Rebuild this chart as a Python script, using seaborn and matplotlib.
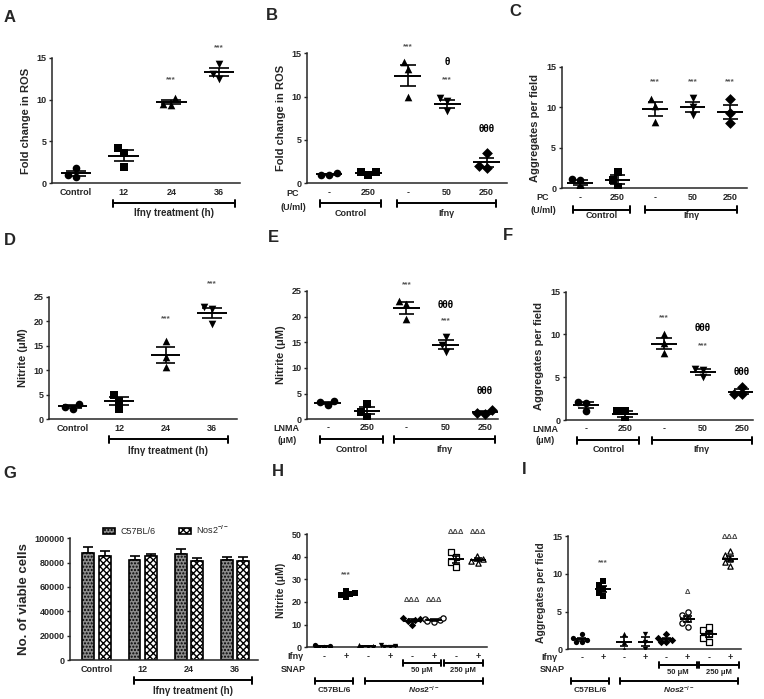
import numpy as np
import pandas as pd
import matplotlib
matplotlib.use("Agg")
import matplotlib.pyplot as plt
from matplotlib import transforms
import seaborn as sns

sns.set_style("ticks")
plt.rcParams['font.family'] = ['Liberation Sans', 'DejaVu Sans']
plt.rcParams['font.weight'] = 'bold'
plt.rcParams['mathtext.fontset'] = 'custom'
plt.rcParams['mathtext.rm'] = 'Liberation Sans:bold'
plt.rcParams['mathtext.it'] = 'Liberation Sans:italic:bold'
plt.rcParams['mathtext.bf'] = 'Liberation Sans:bold'
plt.rcParams['axes.linewidth'] = 1.1

# ---------------- DATA ----------------
# A: ROS fold change over Ifng treatment time
a_labels = ['Control', '12', '24', '36']
a_vals = [[1.8, 0.8, 1.0], [4.2, 3.6, 2.0], [10.2, 9.4, 9.5], [14.3, 12.5, 13.1]]
# B: ROS with PC
b_labels = ['-', '250', '-', '50', '250']
b_vals = [[1.2, 0.9, 1.0], [1.3, 1.0, 1.3], [14.0, 13.2, 10.0], [9.8, 9.5, 8.3], [3.5, 1.8, 2.0]]
# C: aggregates with PC
c_labels = ['-', '250', '-', '50', '250']
c_vals = [[1.1, 1.0, 0.0], [2.0, 1.0, 0.2], [11.0, 10.2, 8.2], [11.2, 10.0, 9.0], [11.0, 9.3, 8.0]]
# D: nitrite over time
d_labels = ['Control', '12', '24', '36']
d_vals = [[3.2, 2.2, 2.6], [5.0, 3.8, 2.2], [16.0, 12.8, 10.6], [23.0, 22.5, 19.5]]
# E: nitrite with LNMA
e_labels = ['-', '250', '-', '50', '250']
e_vals = [[3.6, 2.7, 3.3], [3.0, 0.5, 1.5], [23.0, 22.5, 19.5], [16.0, 13.2, 14.5], [1.8, 1.0, 1.2]]
# F: aggregates with LNMA
f_labels = ['-', '250', '-', '50', '250']
f_vals = [[2.1, 2.0, 1.0], [1.1, 1.0, 0.0], [10.0, 9.0, 7.8], [6.0, 5.9, 5.0], [3.9, 3.0, 3.0]]
# G: viable cells
g_groups = ['Control', '12', '24', '36']
g_strains = ['C57BL/6', 'Nos2$^{-/-}$']
g_c57_mean = [88000, 82000, 87000, 82000]
g_c57_sem = [5000, 3500, 3800, 3000]
g_nos_mean = [85500, 85500, 81500, 81500]
g_nos_sem = [4000, 2000, 2000, 3500]
# H: nitrite, SNAP rescue
hi_labels = ['-', '+', '-', '+', '-', '+', '-', '+']
h_vals = [[0.2, 0.5, 0.8, 0.3], [22.0, 23.0, 24.0, 25.0, 23.5], [0.0, 0.5, 0.8, 0.2],
          [0.3, 0.6, 1.0, 0.2], [10.0, 11.5, 12.0, 13.0, 12.5], [11.0, 12.0, 13.0, 12.5, 11.5],
          [42.0, 40.0, 37.5, 35.5], [40.5, 39.0, 38.0, 37.0]]
# I: aggregates, SNAP rescue
i_vals = [[1.0, 1.2, 1.5, 2.0, 1.0], [7.0, 7.5, 8.0, 8.5, 9.0], [0.0, 1.0, 2.0], [0.0, 1.0, 2.0],
          [1.0, 1.2, 1.5, 2.0, 1.0], [3.0, 3.5, 4.0, 4.5, 5.0], [1.0, 1.5, 2.0, 2.5, 3.0],
          [11.0, 11.5, 12.0, 12.5, 13.0]]

# ---------------- LAYOUT ----------------
W, H = 764, 699
fig = plt.figure(figsize=(W / 100, H / 100), dpi=100)


def fy(y):
    return 1 - y / H


def px_axes(l, r, t, b):
    return fig.add_axes([l / W, 1 - b / H, (r - l) / W, (b - t) / H])


def style_axes(ax, ymax, yticks, xlim, labels, ylabel, pad, ylab_size=8, ylabpad=4):
    ax.set_xlim(*xlim)
    ax.set_ylim(0, ymax)
    ax.set_yticks(yticks)
    ax.set_xticks(range(len(labels)))
    ax.set_xticklabels(labels)
    ax.tick_params(axis='x', length=0, pad=pad, labelsize=6.5)
    ax.tick_params(axis='y', length=2.5, width=1, pad=1.5, labelsize=6.5)
    for lab in ax.get_xticklabels() + ax.get_yticklabels():
        lab.set_fontweight('bold')
    sns.despine(ax=ax)
    ax.set_xlabel('')
    ax.set_ylabel(ylabel, fontsize=ylab_size, fontweight='bold', labelpad=ylabpad)


def scatter_panel(ax, groups, markers, opens, msize, mean_hw, cap_hw):
    rows = [(i, v) for i, vals in enumerate(groups) for v in vals]
    df = pd.DataFrame(rows, columns=['pos', 'val'])
    for i, vals in enumerate(groups):
        sub = df[df.pos == i]
        op = opens[i]
        sns.swarmplot(data=sub, x='pos', y='val', native_scale=True, orient='x',
                      marker=markers[i], size=msize,
                      color='white' if op else 'black', edgecolor='black',
                      linewidth=0.9 if op else 0, ax=ax, zorder=3)
        m = np.mean(vals)
        s = np.std(vals, ddof=1) / np.sqrt(len(vals))
        ax.hlines(m, i - mean_hw, i + mean_hw, color='black', lw=1.4, zorder=4)
        ax.vlines(i, m - s, m + s, color='black', lw=1.2, zorder=4)
        ax.hlines([m - s, m + s], i - cap_hw, i + cap_hw, color='black', lw=1.2, zorder=4)


def bracket(ax, x0, x1, yimg, tick=3.5, lw=1.4):
    tr = transforms.blended_transform_factory(ax.transData, fig.transFigure)
    ax.plot([x0, x1], [fy(yimg)] * 2, transform=tr, color='black', lw=lw, clip_on=False)
    for x in (x0, x1):
        ax.plot([x, x], [fy(yimg - tick), fy(yimg + tick)], transform=tr, color='black',
                lw=lw, clip_on=False)


def blab(ax, x, yimg, text, size=6.5, **kw):
    tr = transforms.blended_transform_factory(ax.transData, fig.transFigure)
    ax.text(x, fy(yimg), text, transform=tr, ha='center', va='center', fontsize=size,
            fontweight='bold', **kw)


def note(ax, x, y, text, kind='star'):
    if kind == 'star':
        ax.text(x, y, text, ha='center', va='center', fontsize=6, color='#555555', fontweight='bold')
    elif kind == 'theta':
        ax.text(x, y, text, ha='center', va='center', fontsize=7, color='black', fontweight='bold')
    else:
        ax.text(x, y, text, ha='center', va='center', fontsize=5.5, color='#444444', fontweight='bold')


def ftext(x, y, text, size=6.5, **kw):
    fig.text(x / W, fy(y), text, ha='center', va='center', fontsize=size, fontweight='bold', **kw)


mk4 = ['o', 's', '^', 'v']
mk5 = ['o', 's', '^', 'v', 'D']
mk8 = ['o', 's', '^', 'v', 'D', 'o', 's', '^']
op8 = [False, False, False, False, False, True, True, True]

# ---- A ----
ax = px_axes(52, 240, 57.7, 183.3)
style_axes(ax, 15, [0, 5, 10, 15], (-0.5, 3.44), a_labels, 'Fold change in ROS', 3.4)
scatter_panel(ax, a_vals, mk4, [False] * 4, 5.5, 0.32, 0.21)
ax.set_xlim(-0.5, 3.44); ax.set_ylim(0, 15); ax.set_xlabel(''); ax.set_ylabel('Fold change in ROS', fontsize=8, fontweight='bold', labelpad=4)
note(ax, 2, 12.4, '***'); note(ax, 3, 16.2, '***')
bracket(ax, 0.78, 3.34, 203)
blab(ax, 2.06, 213, 'Ifnγ treatment (h)', size=7)

# ---- B ----
ax = px_axes(307.3, 507, 53.3, 183.3)
style_axes(ax, 15, [0, 5, 10, 15], (-0.55, 4.52), b_labels, 'Fold change in ROS', 3.6)
scatter_panel(ax, b_vals, mk5, [False] * 5, 5.5, 0.34, 0.2)
ax.set_xlim(-0.55, 4.52); ax.set_ylim(0, 15); ax.set_xlabel(''); ax.set_ylabel('Fold change in ROS', fontsize=8, fontweight='bold', labelpad=4)
note(ax, 2, 15.8, '***'); note(ax, 3, 14.0, 'θ', 'theta'); note(ax, 3, 11.9, '***')
note(ax, 4, 6.3, 'θθθ', 'theta')
bracket(ax, -0.23, 1.31, 203.3); bracket(ax, 1.72, 4.24, 203.3)
blab(ax, 0.54, 213.3, 'Control'); blab(ax, 2.98, 213.3, 'Ifnγ')
ftext(293, 193.3, 'PC'); ftext(293, 207, '(U/ml)')

# ---- C ----
ax = px_axes(561.7, 746.7, 66.7, 188.3)
style_axes(ax, 15, [0, 5, 10, 15], (-0.49, 4.44), c_labels, 'Aggregates per field', 3.2)
scatter_panel(ax, c_vals, mk5, [False] * 5, 5.5, 0.34, 0.2)
ax.set_xlim(-0.49, 4.44); ax.set_ylim(0, 15); ax.set_xlabel(''); ax.set_ylabel('Aggregates per field', fontsize=8, fontweight='bold', labelpad=4)
for x in (2, 3, 4):
    note(ax, x, 13.1, '***')
bracket(ax, -0.19, 1.33, 209.5); bracket(ax, 1.73, 4.19, 209.5)
blab(ax, 0.57, 216, 'Control'); blab(ax, 2.96, 216, 'Ifnγ')
ftext(543, 197.7, 'PC'); ftext(543, 210.7, '(U/ml)')

# ---- D ----
ax = px_axes(49.3, 236.7, 296.7, 419.3)
style_axes(ax, 25, [0, 5, 10, 15, 20, 25], (-0.5, 3.53), d_labels, 'Nitrite (μM)', 3.6)
scatter_panel(ax, d_vals, mk4, [False] * 4, 5.5, 0.32, 0.21)
ax.set_xlim(-0.5, 3.53); ax.set_ylim(0, 25); ax.set_xlabel(''); ax.set_ylabel('Nitrite (μM)', fontsize=8, fontweight='bold', labelpad=4)
note(ax, 2, 20.6, '***'); note(ax, 3, 27.7, '***')
bracket(ax, 0.78, 3.35, 439.3)
blab(ax, 2.06, 450.7, 'Ifnγ treatment (h)', size=7)

# ---- E ----
ax = px_axes(307.3, 498, 291, 419.3)
style_axes(ax, 25, [0, 5, 10, 15, 20, 25], (-0.52, 4.33), e_labels, 'Nitrite (μM)', 2.9)
scatter_panel(ax, e_vals, mk5, [False] * 5, 5.5, 0.34, 0.2)
ax.set_xlim(-0.52, 4.33); ax.set_ylim(0, 25); ax.set_xlabel(''); ax.set_ylabel('Nitrite (μM)', fontsize=8, fontweight='bold', labelpad=4)
note(ax, 2, 26.3, '***'); note(ax, 3, 22.3, 'θθθ', 'theta'); note(ax, 3, 19.2, '***')
note(ax, 4, 5.5, 'θθθ', 'theta')
bracket(ax, -0.2, 1.4, 439.3); bracket(ax, 1.69, 4.26, 439.3)
blab(ax, 0.6, 449, 'Control'); blab(ax, 2.97, 449, 'Ifnγ')
ftext(286.7, 428.3, 'LNMA'); ftext(286.7, 440.7, '(μM)')

# ---- F ----
ax = px_axes(565.7, 753, 291.7, 420)
style_axes(ax, 15, [0, 5, 10, 15], (-0.52, 4.29), f_labels, 'Aggregates per field', 3.1)
scatter_panel(ax, f_vals, mk5, [False] * 5, 5.5, 0.34, 0.2)
ax.set_xlim(-0.52, 4.29); ax.set_ylim(0, 15); ax.set_xlabel(''); ax.set_ylabel('Aggregates per field', fontsize=8, fontweight='bold', labelpad=4)
note(ax, 2, 12.0, '***'); note(ax, 3, 10.7, 'θθθ', 'theta'); note(ax, 3, 8.7, '***')
note(ax, 4, 5.6, 'θθθ', 'theta')
bracket(ax, -0.22, 1.37, 440); bracket(ax, 1.69, 4.26, 440)
blab(ax, 0.58, 449.5, 'Control'); blab(ax, 2.97, 449.5, 'Ifnγ')
ftext(545, 429.3, 'LNMA'); ftext(545, 440.7, '(μM)')

# ---- G ----
ax = px_axes(70, 258, 538.3, 660)
gdf = pd.DataFrame({
    'treat': g_groups * 2,
    'strain': [g_strains[0]] * 4 + [g_strains[1]] * 4,
    'value': g_c57_mean + g_nos_mean,
})
sns.barplot(data=gdf, x='treat', y='value', hue='strain', order=g_groups, hue_order=g_strains,
            palette=['#8c8c8c', 'white'], width=0.72, gap=0.28, errorbar=None,
            edgecolor='black', linewidth=1.2, legend=False, ax=ax)
hatches = ['.....', 'xxxxx']
sems = [g_c57_sem, g_nos_sem]
for cont, hatch, sem in zip(ax.containers, hatches, sems):
    xs, ys = [], []
    for bar in cont:
        bar.set_hatch(hatch)
        xs.append(bar.get_x() + bar.get_width() / 2)
        ys.append(bar.get_height())
    ax.errorbar(xs, ys, yerr=[np.zeros(len(sem)), sem], fmt='none', ecolor='black',
                elinewidth=1.2, capsize=3.5, capthick=1.2, zorder=0)
style_axes(ax, 100000, [0, 20000, 40000, 60000, 80000, 100000], (-0.58, 3.5), g_groups,
           'No. of viable cells', 3.6, ylab_size=9.5, ylabpad=3)
leg = ax.legend(handles=[ax.containers[0][0], ax.containers[1][0]], labels=g_strains,
                loc='center', bbox_to_anchor=(166 / W, fy(530)), bbox_transform=fig.transFigure,
                ncol=2, frameon=False, handlelength=1.35, handleheight=0.75,
                handletextpad=0.6, columnspacing=2.6, prop={'size': 6.5, 'weight': 'normal'})
bracket(ax, 0.8, 3.37, 680)
blab(ax, 2.08, 691, 'Ifnγ treatment (h)', size=7)

# ---- H ----
ax = px_axes(307.3, 486.7, 534, 647.3)
style_axes(ax, 50, [0, 10, 20, 30, 40, 50], (-0.76, 7.4), hi_labels, 'Nitrite (μM)', 3.2, ylab_size=7.5)
scatter_panel(ax, h_vals, mk8, op8, 3.8, 0.36, 0.2)
ax.set_xlim(-0.76, 7.4); ax.set_ylim(0, 50); ax.set_xlabel(''); ax.set_ylabel('Nitrite (μM)', fontsize=7.5, fontweight='bold', labelpad=4)
note(ax, 1, 31.9, '***')
for x in (4, 5):
    note(ax, x, 20.6, 'ΔΔΔ', 'delta')
for x in (6, 7):
    note(ax, x, 50.6, 'ΔΔΔ', 'delta')
bracket(ax, 3.6, 5.3, 663.3, tick=3); bracket(ax, 5.45, 7.21, 663.3, tick=3)
blab(ax, 4.45, 671, '50 μM', size=5.5); blab(ax, 6.33, 671, '250 μM', size=5.5)
bracket(ax, -0.41, 1.33, 680.5, tick=3); bracket(ax, 1.86, 7.21, 680.5, tick=3)
blab(ax, 0.46, 690.5, 'C57BL/6', size=6)
blab(ax, 4.53, 690.5, r'$\mathit{Nos2}^{-/-}$', size=6)
ftext(295, 656.7, 'Ifnγ'); ftext(293, 670, 'SNAP')

# ---- I ----
ax = px_axes(567.7, 740.7, 536, 649.3)
style_axes(ax, 15, [0, 5, 10, 15], (-0.66, 7.5), hi_labels, 'Aggregates per field', 2.5, ylab_size=7.5)
scatter_panel(ax, i_vals, mk8, op8, 3.8, 0.36, 0.2)
ax.set_xlim(-0.66, 7.5); ax.set_ylim(0, 15); ax.set_xlabel(''); ax.set_ylabel('Aggregates per field', fontsize=7.5, fontweight='bold', labelpad=4)
note(ax, 1, 11.5, '***')
note(ax, 5, 7.5, 'Δ', 'delta')
note(ax, 7, 14.8, 'ΔΔΔ', 'delta')
bracket(ax, 3.66, 5.42, 665, tick=3); bracket(ax, 5.53, 7.43, 665, tick=3)
blab(ax, 4.54, 672.7, '50 μM', size=5.5); blab(ax, 6.48, 672.7, '250 μM', size=5.5)
bracket(ax, -0.52, 1.3, 681, tick=3); bracket(ax, 1.81, 7.39, 681, tick=3)
blab(ax, 0.39, 690.5, 'C57BL/6', size=6)
blab(ax, 4.6, 690.5, r'$\mathit{Nos2}^{-/-}$', size=6)
ftext(549, 657.7, 'Ifnγ'); ftext(552, 670, 'SNAP')

# ---- panel letters ----
for txt, x, y in [('A', 10, 17), ('B', 272, 15), ('C', 515, 12), ('D', 10, 240), ('E', 273, 237),
                  ('F', 508, 235), ('G', 10, 474), ('H', 278, 472), ('I', 524, 470)]:
    fig.text(x / W, fy(y), txt, ha='center', va='center', fontsize=12, fontweight='bold')

fig.savefig('out.png', dpi=100)
